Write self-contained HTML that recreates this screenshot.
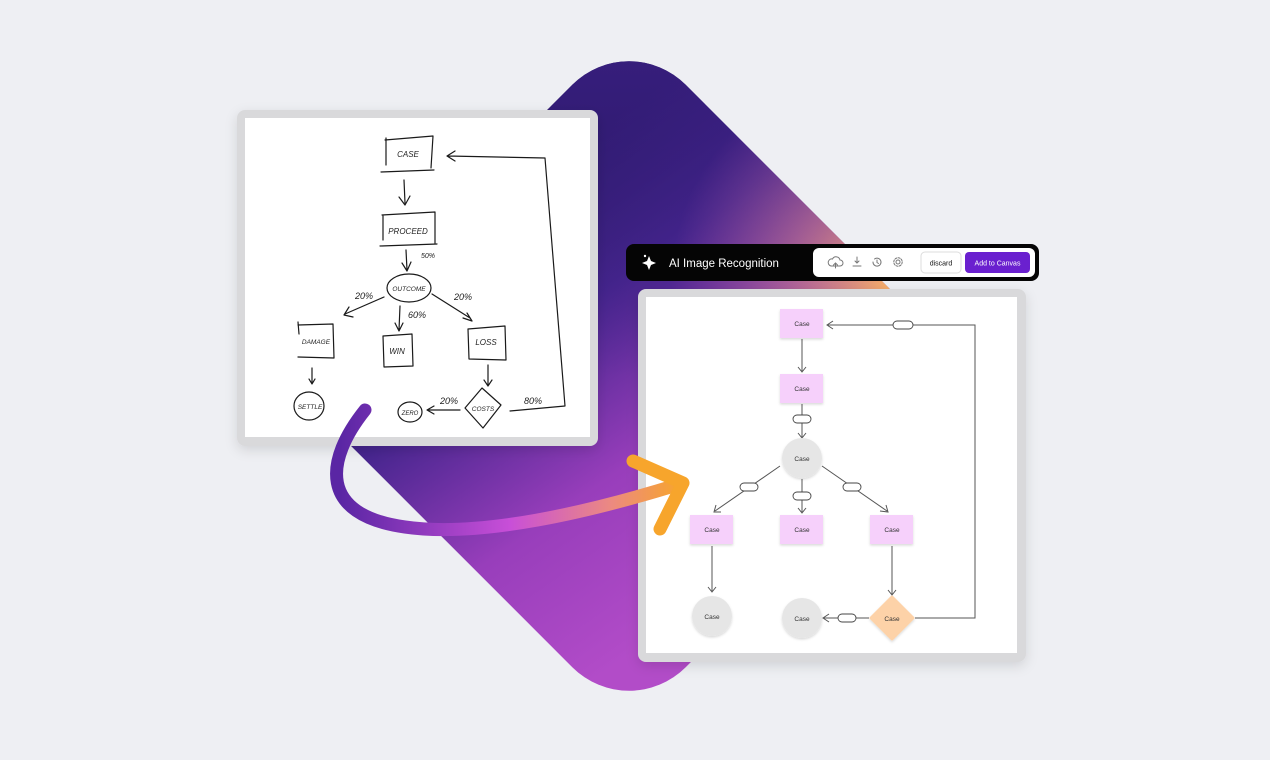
<!DOCTYPE html>
<html><head><meta charset="utf-8"><style>
html,body{margin:0;padding:0;background:#eeeff3;}
svg{display:block;}
text{font-family:"Liberation Sans",sans-serif;}
.h{font-family:"Liberation Sans",sans-serif;font-size:8px;fill:#222;font-style:italic;}
.sk{fill:none;stroke:#1a1a1a;stroke-width:1.2;stroke-linecap:round;stroke-linejoin:round;}
.ln{fill:none;stroke:#555;stroke-width:1;}
.cs{font-size:6.5px;fill:#333;text-anchor:middle;}
.pl{fill:#fff;stroke:#444;stroke-width:0.9;}
</style></head><body>
<svg width="1270" height="760" viewBox="0 0 1270 760" xmlns="http://www.w3.org/2000/svg">
<defs>
<linearGradient id="bg" gradientUnits="userSpaceOnUse" x1="-230" y1="30" x2="215" y2="110">
<stop offset="0" stop-color="#25175f"/><stop offset="0.3" stop-color="#46258e"/><stop offset="0.65" stop-color="#983ebb"/><stop offset="1" stop-color="#b24cc8"/></linearGradient>
<linearGradient id="tp" gradientUnits="userSpaceOnUse" x1="-246" y1="-246" x2="0" y2="0">
<stop offset="0" stop-color="#3a1f82" stop-opacity="0.9"/><stop offset="1" stop-color="#3a1f82" stop-opacity="0"/></linearGradient>
<radialGradient id="or" gradientUnits="userSpaceOnUse" cx="120" cy="-250" r="220">
<stop offset="0" stop-color="#f7b066" stop-opacity="1"/><stop offset="0.45" stop-color="#e08890" stop-opacity="0.55"/><stop offset="1" stop-color="#c060b0" stop-opacity="0"/></radialGradient>
<linearGradient id="ar" gradientUnits="userSpaceOnUse" x1="340" y1="0" x2="680" y2="0">
<stop offset="0" stop-color="#5a26a4"/><stop offset="0.5" stop-color="#c84fd8"/><stop offset="0.8" stop-color="#ec8a80"/><stop offset="1" stop-color="#f7a52c"/></linearGradient>
<filter id="sh" x="-10%" y="-10%" width="120%" height="130%"><feDropShadow dx="0" dy="4" stdDeviation="6" flood-color="#000" flood-opacity="0.12"/></filter>
<filter id="ns" x="-30%" y="-30%" width="160%" height="170%"><feDropShadow dx="0" dy="1.5" stdDeviation="1.2" flood-color="#000" flood-opacity="0.15"/></filter>
</defs>
<g transform="translate(629,376) rotate(45)">
<rect x="-246" y="-246" width="492" height="492" rx="80" fill="url(#bg)"/>
<rect x="-246" y="-246" width="492" height="492" rx="80" fill="url(#tp)"/>
<rect x="-246" y="-246" width="492" height="492" rx="80" fill="url(#or)"/>
</g>

<rect x="237" y="110" width="361" height="336" rx="8" fill="#d9d9db" filter="url(#sh)"/>
<rect x="245" y="118" width="345" height="319" fill="#fff"/>
<g class="sk">
<path d="M385,140 L433,136 L431,168 M381,172 L434,170 M386,138 L386,165"/>
<path d="M404,180 L405,203 M399,197 L405,205 L410,196"/>
<path d="M382,215 L435,212 L435,243 M380,246 L437,244 M383,215 L383,240"/>
<path d="M406,250 L407,270 M402,263 L407,271 L411,262"/>
<ellipse cx="409" cy="288" rx="22" ry="14"/>
<path d="M384,297 L345,314 M349,307 L344,315 L353,317"/>
<path d="M400,306 L399,330 M395,323 L399,331 L403,323"/>
<path d="M432,294 L470,318 M463,318 L472,321 L467,313"/>
<path d="M298,325 L333,324 L334,358 L298,357 M298,322 L299,334"/>
<path d="M383,336 L412,334 L413,366 L384,367 Z"/>
<path d="M468,329 L505,326 L506,360 L469,359 Z"/>
<path d="M312,368 L312,383 M309,379 L312,384 L315,379"/>
<path d="M488,365 L488,385 M484,380 L488,386 L492,380"/>
<ellipse cx="309" cy="406" rx="15" ry="14"/>
<ellipse cx="410" cy="412" rx="12" ry="10"/>
<path d="M482,388 L501,405 L483,428 L465,408 Z"/>
<path d="M460,410 L428,410 M434,406 L427,410 L434,414"/>
<path d="M510,411 L565,406 L545,158 L448,156 M455,151 L447,156 L455,161"/>
</g>
<g class="h" text-anchor="middle">
<text x="408" y="157">CASE</text>
<text x="408" y="234">PROCEED</text>
<text x="428" y="258" font-size="7">50%</text>
<text x="409" y="291" font-size="6.5">OUTCOME</text>
<text x="364" y="299" font-size="9">20%</text>
<text x="463" y="300" font-size="9">20%</text>
<text x="417" y="318" font-size="9">60%</text>
<text x="316" y="344" font-size="6.5">DAMAGE</text>
<text x="397" y="354">WIN</text>
<text x="486" y="345">LOSS</text>
<text x="310" y="409" font-size="6.5">SETTLE</text>
<text x="410" y="415" font-size="6">ZERO</text>
<text x="483" y="411" font-size="6.5">COSTS</text>
<text x="449" y="404" font-size="9">20%</text>
<text x="533" y="404" font-size="9">80%</text>
</g>

<rect x="638" y="289" width="388" height="373" rx="8" fill="#d9d9db" filter="url(#sh)"/>
<rect x="646" y="297" width="371" height="356" fill="#fff"/>
<g class="ln">
<path d="M802,339 L802,371 M798,367 L802,372 L806,367"/>
<path d="M802,404 L802,437 M798,433 L802,438 L806,433"/>
<path d="M780,466 L715,511 M716,505 L714,512 L721,512"/>
<path d="M802,479 L802,512 M798,508 L802,513 L806,508"/>
<path d="M822,466 L887,511 M880,511 L888,512 L886,505"/>
<path d="M712,546 L712,591 M708,587 L712,592 L716,587"/>
<path d="M892,546 L892,594 M888,590 L892,595 L896,590"/>
<path d="M869,618 L824,618 M829,614 L823,618 L829,622"/>
<path d="M915,618 L975,618 L975,325 L828,325 M833,321 L827,325 L833,329"/>
</g>
<g>
<rect x="893" y="321" width="20" height="8" rx="4" class="pl"/>
<rect x="793" y="415" width="18" height="8" rx="4" class="pl"/>
<rect x="740" y="483" width="18" height="8" rx="4" class="pl"/>
<rect x="793" y="492" width="18" height="8" rx="4" class="pl"/>
<rect x="843" y="483" width="18" height="8" rx="4" class="pl"/>
<rect x="838" y="614" width="18" height="8" rx="4" class="pl"/>
</g>
<g filter="url(#ns)">
<rect x="780" y="309" width="43" height="29" fill="#f6d0fb"/>
<rect x="780" y="374" width="43" height="29" fill="#f6d0fb"/>
<circle cx="802" cy="458" r="20" fill="#e6e6e6"/>
<rect x="690" y="515" width="43" height="29" fill="#f6d0fb"/>
<rect x="780" y="515" width="43" height="29" fill="#f6d0fb"/>
<rect x="870" y="515" width="43" height="29" fill="#f6d0fb"/>
<circle cx="712" cy="616" r="20" fill="#e6e6e6"/>
<circle cx="802" cy="618" r="20" fill="#e6e6e6"/>
<path d="M892,597 L913,618 L892,639 L871,618 Z" fill="#fdd2a8" stroke="#fdd2a8" stroke-width="3" stroke-linejoin="round"/>
</g>
<g class="cs">
<text x="802" y="326">Case</text><text x="802" y="391">Case</text><text x="802" y="461">Case</text>
<text x="712" y="532">Case</text><text x="802" y="532">Case</text><text x="892" y="532">Case</text>
<text x="712" y="619">Case</text><text x="802" y="621">Case</text><text x="892" y="621">Case</text>
</g>

<path d="M365,410 C325,460 318,515 405,527 C480,538 590,512 680,484" fill="none" stroke="url(#ar)" stroke-width="13" stroke-linecap="round"/>
<path d="M633,461 L683,483 L660,529" fill="none" stroke="#f7a52c" stroke-width="13" stroke-linecap="round" stroke-linejoin="round"/>

<rect x="626" y="244" width="413" height="37" rx="8" fill="#050505"/>
<rect x="813" y="248" width="222" height="29" rx="6" fill="#fff"/>
<path d="M649,256 L651,261 L656,263 L651,265 L649,270 L647,265 L642,263 L647,261 Z" fill="#fff"/>
<circle cx="645" cy="256" r="1.2" fill="#fff"/>
<text x="669" y="267" font-size="11.5" fill="#fff">AI Image Recognition</text>
<g fill="none" stroke="#777" stroke-width="1" stroke-linecap="round">
<path d="M831,266 h9 a3,3 0 0 0 0,-6 a4,4 0 0 0 -7.5,-1 a3,3 0 0 0 -1.5,7 M835.5,268 v-5 M833.5,265 l2,-2 l2,2"/>
<path d="M857,257 v6 M855,261 l2,2 l2,-2 M853,266 h8"/>
<path d="M873,262 a4,4 0 1 0 1.5,-3 M877,260 v2.5 l1.5,1"/>
<circle cx="898" cy="262" r="2"/><circle cx="898" cy="262" r="4.2" stroke-dasharray="2 1.3"/>
</g>
<rect x="921" y="252" width="40" height="21" rx="4" fill="#fff" stroke="#ddd"/>
<text x="941" y="265.5" font-size="7" fill="#111" text-anchor="middle">discard</text>
<rect x="965" y="252" width="65" height="21" rx="4" fill="#6a20cf"/>
<text x="997.5" y="265.5" font-size="7" fill="#fff" text-anchor="middle">Add to Canvas</text>
</svg>
</body></html>
